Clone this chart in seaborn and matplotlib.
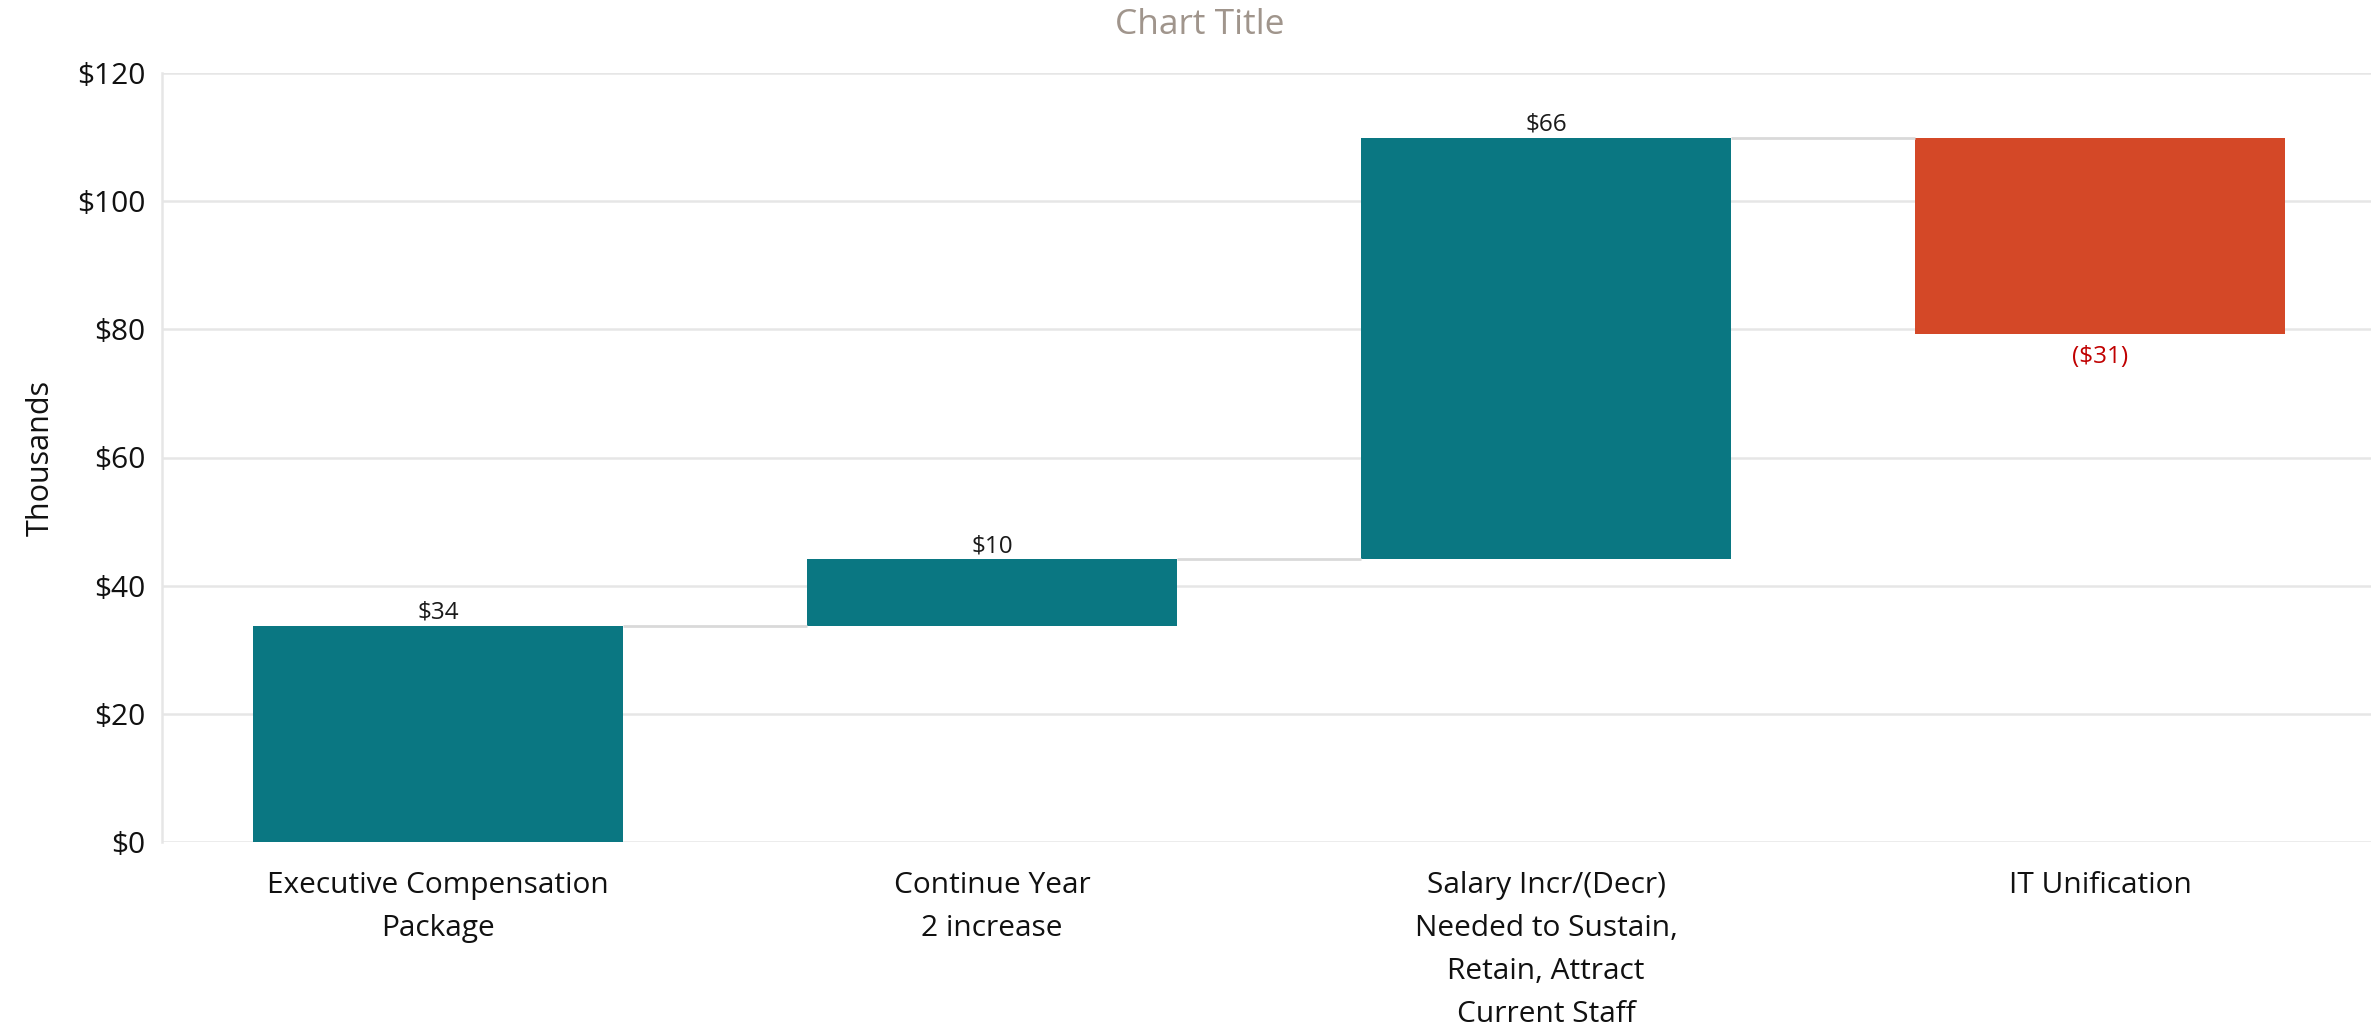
import matplotlib
matplotlib.use("Agg")
import matplotlib.pyplot as plt
import seaborn as sns
import numpy as np
import pandas as pd

# Waterfall steps (thousands of dollars)
categories = [
    "Executive Compensation\nPackage",
    "Continue Year\n2 increase",
    "Salary Incr/(Decr)\nNeeded to Sustain,\nRetain, Attract\nCurrent Staff",
    "IT Unification",
]
changes = [33.7, 10.4, 65.8, -30.6]
y_ticks = [0, 20, 40, 60, 80, 100, 120]

increase_color = "#0a7782"
decrease_color = "#d44827"
neg_label_color = "#c00000"
grid_color = "#e6e6e6"
connector_color = "#d9d9d9"

sns.set_theme(style="white")
plt.rcParams["font.family"] = ["Open Sans", "DejaVu Sans"]

ends = np.cumsum(changes)
bases = ends - np.array(changes)
df = pd.DataFrame({"step": categories, "change": changes})

fig = plt.figure(figsize=(23.76, 10.29), dpi=100)
ax = fig.add_axes([162 / 2376, 1 - 842 / 1029, (2371 - 162) / 2376, (842 - 73) / 1029])

sns.barplot(data=df, x="step", y="change", bottom=bases, color=increase_color,
            width=0.667, errorbar=None, saturation=1, linewidth=0, ax=ax)

container = ax.containers[0]
for patch, val in zip(container.patches, changes):
    patch.set_facecolor(increase_color if val >= 0 else decrease_color)

# connectors between consecutive bars
patches = list(container.patches)
for i in range(len(patches) - 1):
    x0 = patches[i].get_x() + patches[i].get_width()
    x1 = patches[i + 1].get_x()
    ax.hlines(ends[i], x0, x1, color=connector_color, linewidth=2, zorder=1)

labels = [f"${v:.0f}" if v >= 0 else f"(${abs(v):.0f})" for v in changes]
texts = ax.bar_label(container, labels=labels, padding=1, fontsize=17.5)
for t, v in zip(texts, changes):
    if v >= 0:
        t.set_color("#1a1a1a")
    else:
        t.set_color(neg_label_color)
        t.xyann = (0, -8)

ax.set_xlim(-0.498, 3.489)
ax.set_ylim(0, 120)
ax.set_yticks(y_ticks)
ax.set_yticklabels([f"${v}" for v in y_ticks])
ax.yaxis.grid(True, color=grid_color, linewidth=1.8)
ax.set_axisbelow(True)
for s in ["top", "right", "bottom"]:
    ax.spines[s].set_visible(False)
ax.spines["left"].set_color(grid_color)
ax.spines["left"].set_linewidth(1.8)
ax.tick_params(axis="y", length=0, pad=12, labelsize=21.5, labelcolor="#111111")
ax.tick_params(axis="x", length=0, pad=21, labelsize=21.5, labelcolor="#111111")
for lab in ax.get_xticklabels():
    lab.set_linespacing(1.63)
ax.set_xlabel("")
ax.set_ylabel("")

fig.text(41 / 2376, 1 - 458 / 1029, "Thousands", rotation=90, ha="center", va="center",
         fontsize=22, color="#111111")
fig.text(0.505, 1 - 25 / 1029, "Chart Title", ha="center", va="center",
         fontsize=25.5, color="#a0958c")

fig.savefig("out.png", dpi=100)
